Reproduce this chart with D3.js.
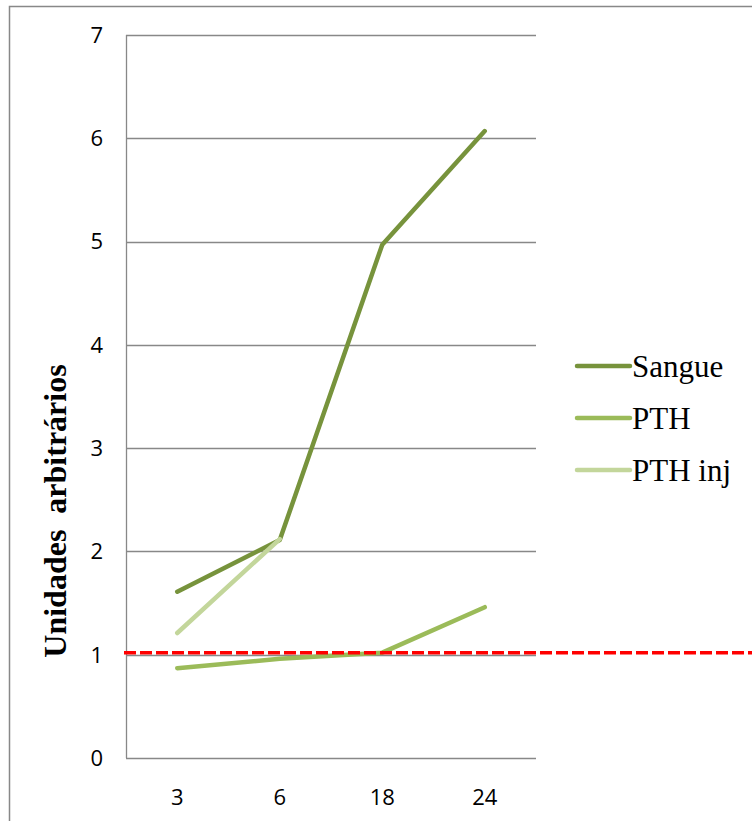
<!DOCTYPE html>
<html><head><meta charset="utf-8">
<script src="https://cdn.jsdelivr.net/npm/d3@7"></script>
<style>body{margin:0;background:#fff}svg{display:block}</style>
</head><body>
<script>
const categories = ["3", "6", "18", "24"];
const sangue = [1.61, 2.11, 4.97, 6.07];
const pth = [0.87, 0.96, 1.02, 1.46];
const pthInj = [1.21, 2.12, null, null];
const yTicks = [0, 1, 2, 3, 4, 5, 6, 7];
const refValue = 1.02;
const seriesNames = ["Sangue", "PTH", "PTH inj"];
const seriesColors = ["#77933C", "#9BBB59", "#C3D69B"];
const yTitle = "Unidades  arbitrários";

const W = 752, H = 821;
const svg = d3.select("body").append("svg").attr("width", W).attr("height", H);

svg.append("rect").attr("x", 9.5).attr("y", 6.5).attr("width", 800).attr("height", 900)
  .attr("fill", "none").attr("stroke", "#888").attr("stroke-width", 1.5);

const x = d3.scaleBand().domain(categories).range([126, 536]);
const y = d3.scaleLinear().domain([0, 7]).range([758, 35]);

// gridlines
svg.append("g").selectAll("line").data(yTicks).join("line")
  .attr("x1", 126).attr("x2", 536)
  .attr("y1", d => Math.round(y(d)) + 0.5).attr("y2", d => Math.round(y(d)) + 0.5)
  .attr("stroke", "#888").attr("stroke-width", 1.3);

// y axis line
svg.append("line").attr("x1", 126.5).attr("x2", 126.5).attr("y1", y(7)).attr("y2", y(0))
  .attr("stroke", "#888").attr("stroke-width", 1.3);

const tickFont = "'Open Sans', 'Noto Sans', sans-serif";
// y tick labels
svg.append("g").selectAll("text").data(yTicks).join("text")
  .attr("x", 103).attr("y", d => y(d)).attr("dy", "0.36em")
  .attr("text-anchor", "end").attr("font-family", tickFont)
  .attr("font-size", 22).attr("fill", "#000").text(d => d);

// x tick labels
svg.append("g").selectAll("text").data(categories).join("text")
  .attr("x", d => x(d) + x.bandwidth() / 2).attr("y", 797).attr("dy", "0.36em")
  .attr("text-anchor", "middle").attr("font-family", tickFont)
  .attr("font-size", 22).attr("fill", "#000").text(d => d);

// y title
svg.append("text").attr("transform", "translate(66,511) rotate(-90)")
  .attr("text-anchor", "middle").attr("font-family", "'Liberation Serif', 'Times New Roman', serif")
  .attr("font-weight", "bold").attr("font-size", 32)
  .style("white-space", "pre").text(yTitle);

// series lines
const data = [sangue, pth, pthInj];
const line = d3.line()
  .defined(d => d != null)
  .x((d, i) => x(categories[i]) + x.bandwidth() / 2)
  .y(d => y(d));
data.forEach((s, k) => {
  svg.append("path").datum(s).attr("d", line)
    .attr("fill", "none").attr("stroke", seriesColors[k]).attr("stroke-width", 4.5)
    .attr("stroke-linecap", "round").attr("stroke-linejoin", "round");
});

// reference dashed line
svg.append("line").attr("x1", 124).attr("x2", W).attr("y1", y(refValue)).attr("y2", y(refValue))
  .attr("stroke", "#FF0000").attr("stroke-width", 3.5).attr("stroke-dasharray", "12,4");

// legend
const lg = svg.append("g").selectAll("g").data(seriesNames).join("g")
  .attr("transform", (d, i) => `translate(0,${366 + i * 52})`);
lg.append("line").attr("x1", 577).attr("x2", 630).attr("y1", 0).attr("y2", 0)
  .attr("stroke", (d, i) => seriesColors[i]).attr("stroke-width", 4.5).attr("stroke-linecap", "round");
lg.append("text").attr("x", 632).attr("y", 0).attr("dy", "0.35em")
  .attr("font-family", "'Liberation Serif', 'Times New Roman', serif").attr("font-size", 31)
  .attr("fill", "#000").text(d => d);
</script>
</body></html>
